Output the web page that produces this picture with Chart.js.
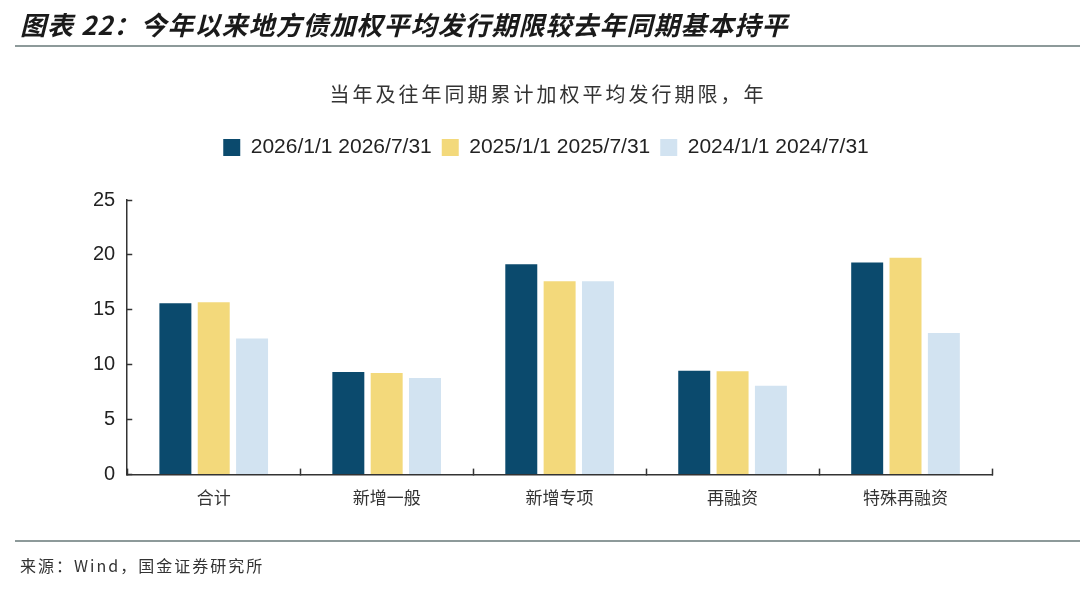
<!DOCTYPE html>
<html>
<head>
<meta charset="utf-8">
<script src="https://cdn.jsdelivr.net/npm/chart.js@4.4.1/dist/chart.umd.min.js"></script>
<style>
  html,body{margin:0;padding:0;background:#fff;}
  #wrap{position:relative;width:1080px;height:591px;overflow:hidden;font-family:"Noto Sans CJK SC","Noto Sans",sans-serif;}
  #c{position:absolute;left:0;top:0;width:1080px;height:591px;}
  .title{position:absolute;left:20px;top:5px;font-size:26px;font-weight:bold;font-style:italic;color:#1a1a1a;letter-spacing:1px;white-space:nowrap;}
  .rule{position:absolute;left:15px;right:0;height:2px;background:#8d9a9a;}
  .sub{position:absolute;left:0;width:1096px;top:79px;text-align:center;font-size:20px;color:#333;letter-spacing:3px;white-space:nowrap;}
  .foot{position:absolute;left:20px;top:553px;font-size:16px;color:#333;letter-spacing:2px;white-space:nowrap;}
</style>
</head>
<body>
<div id="wrap">
  <canvas id="c" width="1080" height="591"></canvas>
  <div class="title">图表 22：今年以来地方债加权平均发行期限较去年同期基本持平</div>
  <div class="rule" style="top:45px"></div>
  <div class="sub">当年及往年同期累计加权平均发行期限，年</div>
  <div class="rule" style="top:540px"></div>
  <div class="foot">来源：Wind，国金证券研究所</div>
</div>
<script>
const categories = ["合计", "新增一般", "新增专项", "再融资", "特殊再融资"];
const seriesNames = ["2026/1/1 2026/7/31", "2025/1/1 2025/7/31", "2024/1/1 2024/7/31"];
const values2026 = [15.6, 9.35, 19.15, 9.45, 19.3];
const values2025 = [15.7, 9.25, 17.6, 9.4, 19.75];
const values2024 = [12.4, 8.8, 17.6, 8.1, 12.9];
const yTicks = [0, 5, 10, 15, 20, 25];
const colors = ["#0b4a6d", "#f3d97b", "#d2e3f1"];

const legendSpacer = {
  id: 'legendSpacer',
  beforeInit(chart) {
    const orig = chart.legend.fit;
    chart.legend.fit = function () {
      orig.bind(chart.legend)();
      this.height += 32;
    };
  },
  afterLayout(chart) {
    chart.legend.left += 12;
    chart.legend.right += 12;
  }
};

new Chart(document.getElementById('c'), {
  type: 'bar',
  data: {
    labels: categories,
    datasets: [
      {label: seriesNames[0], data: values2026, backgroundColor: colors[0]},
      {label: seriesNames[1], data: values2025, backgroundColor: colors[1]},
      {label: seriesNames[2], data: values2024, backgroundColor: colors[2]}
    ]
  },
  options: {
    responsive: false,
    animation: false,
    devicePixelRatio: 1,
    categoryPercentage: 0.665,
    barPercentage: 0.834,
    layout: {padding: {top: 127, left: 76, right: 88, bottom: 64}},
    plugins: {
      title: {display: false},
      tooltip: {enabled: false},
      legend: {
        display: true,
        position: 'top',
        labels: {
          font: {family: "'Liberation Sans', Arial, sans-serif", size: 21},
          color: '#222',
          boxWidth: 17,
          boxHeight: 17,
          padding: 10
        }
      }
    },
    scales: {
      x: {
        grid: {display: true, offset: true, drawOnChartArea: false, tickLength: -6, tickColor: '#333', tickWidth: 1.5},
        border: {display: true, color: '#333', width: 1.5},
        ticks: {font: {family: "'Noto Sans CJK SC', sans-serif", size: 17}, color: '#333', padding: 19}
      },
      y: {
        min: 0, max: 25,
        afterBuildTicks(scale) { scale.ticks = yTicks.map(v => ({value: v})); },
        grid: {display: true, drawOnChartArea: false, tickLength: -5, tickColor: '#333', tickWidth: 1.5},
        border: {display: true, color: '#333', width: 1.5},
        ticks: {font: {family: "'Liberation Sans', Arial, sans-serif", size: 20}, color: '#222', padding: 17}
      }
    }
  },
  plugins: [legendSpacer]
});
</script>
</body>
</html>
